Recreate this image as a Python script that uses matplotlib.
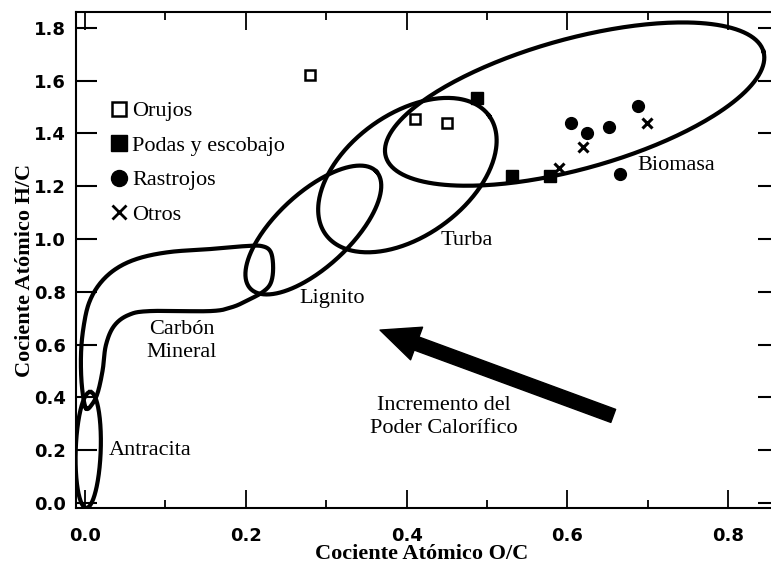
import matplotlib.pyplot as plt
import numpy as np
from matplotlib.lines import Line2D


# Data (O/C and H/C atomic ratios)

orujos_oc = [0.280, 0.411, 0.450]
orujos_hc = [1.621, 1.456, 1.439]
podas_oc = [0.487, 0.531, 0.578]
podas_hc = [1.535, 1.240, 1.239]
rastrojos_oc = [0.604, 0.625, 0.652, 0.688, 0.665]
rastrojos_hc = [1.440, 1.400, 1.425, 1.504, 1.246]
otros_oc = [0.699, 0.620, 0.589]
otros_hc = [1.440, 1.350, 1.268]

# Fuel regions drawn as ellipses: centre in data units, semi-axes and tilt on screen (px, deg)
region_names = ["Antracita", "Lignito", "Turba", "Biomasa"]
region_cx = [0.004, 0.284, 0.401, 0.609]
region_cy = [0.201, 1.034, 1.242, 1.511]
region_a = [58, 86, 101, 196]
region_b = [12.5, 37, 61, 65]
region_angle = [88, 42.8, 36, 15.5]

# Outline of the "Carbón Mineral" band
carbon_oc = [0.001, -0.004, -0.005, -0.002, 0.005, 0.019, 0.040, 0.068, 0.106, 0.156, 0.199,
             0.220, 0.231, 0.234, 0.231, 0.221, 0.203, 0.183, 0.156, 0.081, 0.054, 0.036,
             0.026, 0.022, 0.016, 0.009]
carbon_hc = [0.360, 0.447, 0.561, 0.663, 0.758, 0.833, 0.890, 0.928, 0.951, 0.962, 0.973,
             0.973, 0.951, 0.890, 0.833, 0.799, 0.769, 0.742, 0.727, 0.727, 0.712, 0.670,
             0.598, 0.504, 0.420, 0.375]

# Labels of the regions
label_texts = ["Biomasa", "Turba", "Lignito", "Carbón\nMineral", "Antracita",
               "Incremento del\nPoder Calorífico"]
label_oc = [0.736, 0.4745, 0.307, 0.1206, 0.0808, 0.4465]
label_hc = [1.280, 0.996, 0.776, 0.614, 0.197, 0.326]

# Arrow (tail -> head)
arrow_tail = (0.657, 0.330)
arrow_head = (0.367, 0.655)

x_ticks = [0.0, 0.2, 0.4, 0.6, 0.8]
x_minor = [0.1, 0.3, 0.5, 0.7]
y_ticks = [0.0, 0.2, 0.4, 0.6, 0.8, 1.0, 1.2, 1.4, 1.6, 1.8]

SERIF = "Liberation Serif"
TEXT_SIZE = 16


def ellipse_points(ax, cx, cy, a, b, angle):
    """Points of a tilted ellipse defined on screen, returned in data coordinates"""
    t = np.linspace(0, 2 * np.pi, 300)
    th = np.radians(angle)
    u, v = a * np.cos(t), b * np.sin(t)
    dx = u * np.cos(th) - v * np.sin(th)
    dy = u * np.sin(th) + v * np.cos(th)
    x0, y0 = ax.transData.transform((cx, cy))
    pts = np.column_stack([x0 + dx, y0 + dy])
    return ax.transData.inverted().transform(pts)


def smooth_closed(x, y, n=20):
    """Closed Catmull-Rom curve through the given points"""
    p = np.column_stack([x, y])
    m = len(p)
    t = np.linspace(0, 1, n, endpoint=False)[:, None]
    out = []
    for i in range(m):
        p0, p1, p2, p3 = p[i - 1], p[i], p[(i + 1) % m], p[(i + 2) % m]
        seg = 0.5 * (2 * p1 + (-p0 + p2) * t
                     + (2 * p0 - 5 * p1 + 4 * p2 - p3) * t ** 2
                     + (-p0 + 3 * p1 - 3 * p2 + p3) * t ** 3)
        out.append(seg)
    out = np.vstack(out)
    return np.vstack([out, out[:1]])


plt.rcParams['font.family'] = 'DejaVu Sans'

fig = plt.figure(figsize=(7.71, 5.64), dpi=100)
ax = fig.add_axes([76 / 771, 56 / 564, 703 / 771, 496 / 564])
ax.set_xlim(-0.0112, 0.8632)
ax.set_ylim(-0.0189, 1.8598)

# Regions
for name, cx, cy, a, b, ang in zip(region_names, region_cx, region_cy, region_a, region_b, region_angle):
    pts = ellipse_points(ax, cx, cy, a, b, ang)
    ax.plot(pts[:, 0], pts[:, 1], color='black', linewidth=3.0, solid_joinstyle='round')

band = smooth_closed(carbon_oc, carbon_hc)
ax.plot(band[:, 0], band[:, 1], color='black', linewidth=3.0, solid_joinstyle='round')

# Samples
ax.plot(orujos_oc, orujos_hc, linestyle='none', marker='s', markersize=7.5,
        markerfacecolor='white', markeredgecolor='black', markeredgewidth=1.8)
ax.plot(podas_oc, podas_hc, linestyle='none', marker='s', markersize=8, color='black')
ax.plot(rastrojos_oc, rastrojos_hc, linestyle='none', marker='o', markersize=8.5, color='black')
ax.plot(otros_oc, otros_hc, linestyle='none', marker='x', markersize=6.5,
        markeredgewidth=2.2, color='black')

# Legend
handles = [
    Line2D([], [], linestyle='none', marker='s', markersize=10.5, markerfacecolor='white',
           markeredgecolor='black', markeredgewidth=1.8, label='Orujos'),
    Line2D([], [], linestyle='none', marker='s', markersize=11, color='black',
           label='Podas y escobajo'),
    Line2D([], [], linestyle='none', marker='o', markersize=11.5, color='black',
           label='Rastrojos'),
    Line2D([], [], linestyle='none', marker='x', markersize=10, markeredgewidth=2.0,
           color='black', label='Otros'),
]
ax.legend(handles=handles, loc='upper left', bbox_to_anchor=(0.050, 0.821), frameon=False,
          borderpad=0, borderaxespad=0, handlelength=0.75, handletextpad=0.2,
          labelspacing=0.63, prop={'family': SERIF, 'size': TEXT_SIZE})

# Region labels
for txt, x, y in zip(label_texts, label_oc, label_hc):
    ax.text(x, y, txt, ha='center', va='center', family=SERIF, fontsize=TEXT_SIZE,
            linespacing=1.25)

# Heating value arrow
ax.annotate('', xy=arrow_head, xytext=arrow_tail,
            arrowprops=dict(arrowstyle='simple,head_length=2.8,head_width=2.5,tail_width=1.0',
                            mutation_scale=10, fc='black', ec='black', shrinkA=0, shrinkB=0))

# Axes
ax.set_xticks(x_ticks)
ax.set_xticks(x_minor, minor=True)
ax.set_xticklabels([f"{v:.1f}" for v in x_ticks])
ax.set_yticks(y_ticks)
ax.set_yticklabels([f"{v:.1f}" for v in y_ticks])
ax.tick_params(axis='y', which='major', direction='in', length=15, width=1.5,
               left=True, right=True, labelsize=13, pad=7)
ax.tick_params(axis='x', which='major', direction='in', length=13, width=1.3,
               top=True, bottom=True, labelsize=13, pad=14)
ax.tick_params(axis='x', which='minor', direction='in', length=6, width=1.3,
               top=True, bottom=True)
for lab in ax.get_xticklabels() + ax.get_yticklabels():
    lab.set_fontweight('bold')
for sp in ax.spines.values():
    sp.set_linewidth(1.5)

ax.set_xlabel('Cociente Atómico O/C', family=SERIF, fontweight='bold', fontsize=TEXT_SIZE)
ax.set_ylabel('Cociente Atómico H/C', family=SERIF, fontweight='bold', fontsize=TEXT_SIZE)
ax.xaxis.set_label_coords(0.492, -0.073)
ax.yaxis.set_label_coords(-0.058, 0.478)

fig.savefig('out.png', dpi=100)
